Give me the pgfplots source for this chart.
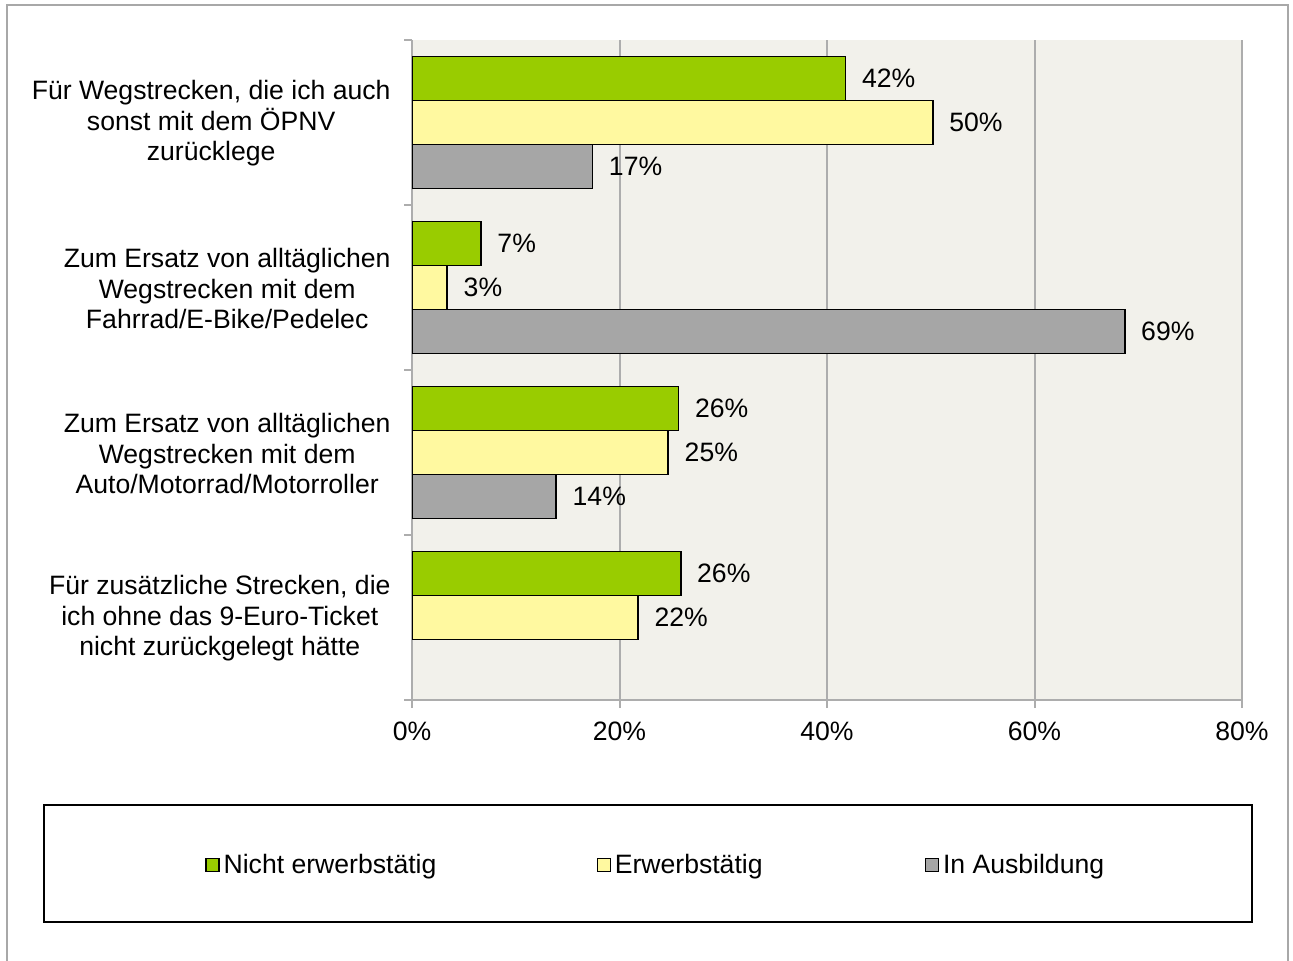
\documentclass[border=0pt]{standalone}
\usepackage{pgfplots}
\pgfplotsset{compat=1.18}
\usepackage{fontspec}
\setmainfont{Liberation Sans}
\definecolor{cgreen}{HTML}{99CC00}
\definecolor{cyellow}{HTML}{FFF9A0}
\definecolor{cgray}{HTML}{A6A6A6}
\definecolor{cbg}{HTML}{F2F1EB}
\definecolor{cline}{HTML}{ADADAD}
\definecolor{cframe}{HTML}{A8A8A8}
\newcommand{\ff}{\fontsize{13.3}{15.25}\selectfont}
\begin{document}
\begin{tikzpicture}[font=\ff]
\path[use as bounding box] (0,0) rectangle (646.5pt,-480pt);
\draw[cframe, line width=1pt] (3.5pt,-2.5pt) rectangle (644pt,-490pt);
\draw[black, line width=0.8pt] (22pt,-402.5pt) rectangle (626pt,-461pt);
\begin{axis}[
 at={(206pt,-350pt)}, anchor=south west,
 width=415pt, height=330pt, scale only axis,
 xbar, bar width=22pt,
 xmin=0, xmax=80, ymin=-0.5, ymax=3.5,
 /pgf/number format/assume math mode=true,
 axis x line*=bottom, axis y line*=left,
 axis line style={cline, line width=1pt, -},
 axis background/.style={fill=cbg},
 xtick={0,20,40,60,80},
 xticklabel={\pgfmathprintnumber{\tick}\%},
 xticklabel style={yshift=-3.5pt},
 tick label style={font=\ff},
 xmajorgrids, major grid style={cline, line width=1pt},
 tick align=outside, major tick length=4pt,
 tick style={cline, line width=1pt},
 ytick={-0.5,0.5,1.5,2.5,3.5}, yticklabels={},
 extra y ticks={0,1,2,3},
 extra y tick labels={{Für zusätzliche Strecken, die\\ich ohne das 9-Euro-Ticket\\nicht zurückgelegt hätte},{Zum Ersatz von alltäglichen\\Wegstrecken mit dem\\Auto/Motorrad/Motorroller},{Zum Ersatz von alltäglichen\\Wegstrecken mit dem\\Fahrrad/E-Bike/Pedelec},{Für Wegstrecken, die ich auch\\sonst mit dem ÖPNV\\zurücklege}},
 extra y tick style={tick style={draw=none}, yticklabel style={align=center, xshift=-3.2pt, yshift=-0.5pt}},
 point meta=x,
 nodes near coords={\pgfmathprintnumber[fixed,precision=0,assume math mode=true]{\pgfplotspointmeta}\%},
 nodes near coords style={anchor=west, xshift=4.5pt, black, font=\ff},
 every axis plot/.append style={draw=black, line width=0.8pt},
 legend style={at={(-0.2494,-0.2500)}, anchor=west, draw=none, fill=none, legend columns=3, inner xsep=0pt, nodes={inner xsep=2pt}, font=\ff},
 legend image code/.code={\draw[#1, line width=0.6pt] (0pt,-3.25pt) rectangle (6.5pt,3.25pt);},
]
\addplot[fill=cgreen, bar shift=22pt] coordinates {(41.8,3) (6.65,2) (25.7,1) (25.9,0)};
\addlegendentry{\makebox[184.5pt][l]{Nicht erwerbstätig}}
\addplot[fill=cyellow, bar shift=0pt] coordinates {(50.2,3) (3.4,2) (24.7,1) (21.8,0)};
\addlegendentry{\makebox[153pt][l]{Erwerbstätig}}
\addplot[fill=cgray, bar shift=-22pt] coordinates {(17.4,3) (68.7,2) (13.9,1)};
\addlegendentry{In Ausbildung}
\end{axis}
\end{tikzpicture}
\end{document}
